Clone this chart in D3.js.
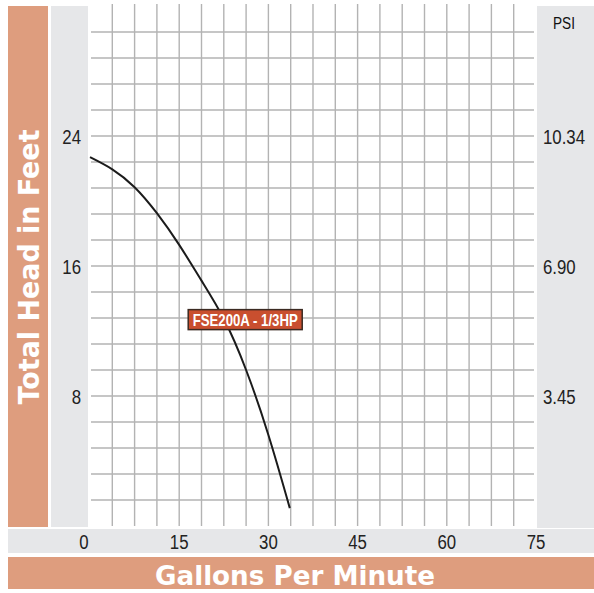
<!DOCTYPE html>
<html>
<head>
<meta charset="utf-8">
<script src="https://cdn.jsdelivr.net/npm/d3@7"></script>
<style>
  html, body { margin: 0; padding: 0; background: #ffffff; }
  svg { display: block; }
</style>
</head>
<body>
<script>
// ---- data ----
const gpmTicks = [0, 15, 30, 45, 60, 75];
const headTicks = [8, 16, 24];
const psiLabels = ["3.45", "6.90", "10.34"];
const curveGpm  = [0, 3.75, 7.5, 11.25, 15, 18.75, 22.5, 26.25, 30, 33.6];
const curveHead = [22.7, 21.95, 20.85, 19.25, 17.3, 15.1, 12.75, 9.6, 5.6, 1.1];
const seriesName = "FSE200A - 1/3HP";
const labelAt = [26.1, 12.7];

const W = 594, H = 593;
const orange = "#de9d7e", gray = "#e6e7e9", grid = "#b3b3b3";
const tickFont = "'Liberation Sans', Arial, sans-serif";
const squeeze = 0.8;

const svg = d3.select("body").append("svg").attr("width", W).attr("height", H);

const x = d3.scaleLinear().domain([0, 75]).range([90, 536]);
const y = d3.scaleLinear().domain([0, 32]).range([526, 6]);

// background bands
svg.append("rect").attr("x", 8).attr("y", 6).attr("width", 40).attr("height", 521).attr("fill", orange);
svg.append("rect").attr("x", 51).attr("y", 6).attr("width", 37).attr("height", 521).attr("fill", gray);
svg.append("rect").attr("x", 537).attr("y", 6).attr("width", 57).attr("height", 522).attr("fill", gray);
svg.append("rect").attr("x", 8).attr("y", 529).attr("width", 586).attr("height", 24).attr("fill", gray);
svg.append("rect").attr("x", 8).attr("y", 557).attr("width", 586).attr("height", 32).attr("fill", orange);

// grid
const vLines = d3.range(1, 21).map(i => i * 3.75).filter(v => v < 75);
const hLines = d3.range(1, 20).map(i => i * 1.6);
svg.append("g").selectAll("line").data(vLines).join("line")
  .attr("x1", d => x(d)).attr("x2", d => x(d))
  .attr("y1", 4).attr("y2", y(0))
  .attr("stroke", grid).attr("stroke-width", 1.4);
svg.append("g").selectAll("line").data(hLines).join("line")
  .attr("x1", 91).attr("x2", 534)
  .attr("y1", d => y(d)).attr("y2", d => y(d))
  .attr("stroke", grid).attr("stroke-width", 1.4);

// curve
const pts = curveGpm.map((g, i) => [g, curveHead[i]]);
const line = d3.line().x(d => x(d[0])).y(d => y(d[1])).curve(d3.curveNatural);
svg.append("path").datum(pts).attr("d", line)
  .attr("fill", "none").attr("stroke", "#1b1b1b").attr("stroke-width", 2);

// helper for condensed text
function cond(g, tx, ty, anchor, size, txt, color, weight) {
  g.append("text")
    .attr("transform", `translate(${tx},${ty}) scale(${squeeze},1)`)
    .attr("text-anchor", anchor)
    .attr("dy", "0.36em")
    .attr("font-family", tickFont).attr("font-size", size)
    .attr("font-weight", weight || "normal")
    .attr("fill", color).text(txt);
}

// left tick labels
const gl = svg.append("g");
headTicks.forEach(d => cond(gl, 81, y(d), "end", 21, d, "#222"));

// right PSI labels
const gr = svg.append("g");
headTicks.forEach((d, i) => cond(gr, 543, y(d), "start", 21, psiLabels[i], "#222"));
cond(gr, 564, 23, "middle", 17, "PSI", "#111");

// bottom tick labels
const gb = svg.append("g");
gpmTicks.forEach(d => cond(gb, x(d) - (d === 0 ? 6 : 0), 541, "middle", 21, d, "#222"));

// axis titles
svg.append("text")
  .attr("transform", "translate(39,267) rotate(-90)")
  .attr("text-anchor", "middle")
  .attr("font-family", "'DejaVu Sans', sans-serif").attr("font-weight", "bold")
  .attr("font-size", 29).attr("fill", "#fff")
  .attr("textLength", 275).attr("lengthAdjust", "spacingAndGlyphs")
  .text("Total Head in Feet");
svg.append("text")
  .attr("x", 295).attr("y", 585)
  .attr("text-anchor", "middle")
  .attr("font-family", "'DejaVu Sans', sans-serif").attr("font-weight", "bold")
  .attr("font-size", 27).attr("fill", "#fff")
  .attr("textLength", 280).attr("lengthAdjust", "spacingAndGlyphs")
  .text("Gallons Per Minute");

// series label
const lx = x(labelAt[0]), ly = y(labelAt[1]);
svg.append("rect").attr("x", lx - 57).attr("y", ly - 10).attr("width", 114).attr("height", 20)
  .attr("fill", "#c94f2f").attr("stroke", "#3b2a22").attr("stroke-width", 1.5);
svg.append("text").attr("x", lx).attr("y", ly).attr("dy", "0.36em")
  .attr("text-anchor", "middle")
  .attr("font-family", tickFont).attr("font-weight", "bold")
  .attr("font-size", 17).attr("fill", "#fff")
  .attr("textLength", 105).attr("lengthAdjust", "spacingAndGlyphs")
  .text(seriesName);
</script>
</body>
</html>
